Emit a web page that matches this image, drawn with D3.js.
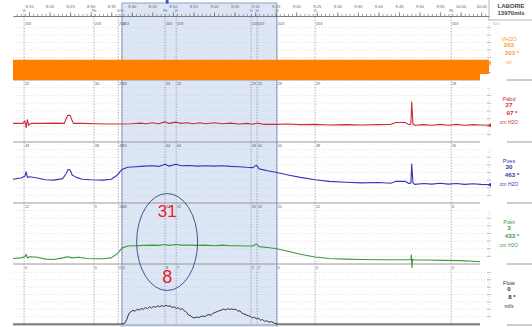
<!DOCTYPE html>
<html>
<head>
<meta charset="utf-8">
<script src="https://cdn.jsdelivr.net/npm/d3@7"></script>
<style>
  body { margin: 0; background: #fff; }
  svg { display: block; font-family: "Liberation Sans", "DejaVu Sans", sans-serif; opacity: 0.999; }
  svg text { -webkit-font-smoothing: antialiased; }
</style>
</head>
<body>
<svg id="chart" width="532" height="327"></svg>
<script>
// ---- time axis (minutes after 8:00) ----
const tickMinutes = d3.range(15, 126, 5);          // 8:15 ... 10:05
const minorMinutes = d3.range(12, 127, 1);
const timeDomain = [11.1, 126.9];

// ---- events ----
const eventTimes = [13.8, 30.8, 36.7, 37.6, 48.1, 50.8, 69.0, 70.5, 75.3, 84.6, 117.7];
const eventTags  = ["Vi", "Pb", "Vi", "Vi", "Pb", "Vi", "Vi", "Vi", "Vi", "Vi", "Pb"];
const voidingWindow = [37.6, 75.3];

// ---- traces: [minute, value] ----
const vh2oSeries = [[11.1, 203], [126.9, 203]];

const pabdSeries = [
  [11.1,30],[13.5,30],[14.0,34],[14.3,23],[14.6,36],[14.9,27],[15.4,30],[18,30],[21,30.5],
  [23.6,30],[24.0,37],[24.4,43],[25.0,43],[25.4,36],[25.8,30],[28,30],[31,29.5],[34,29],
  [37.6,29],[40,29.5],[42,30.5],[43.5,29.5],[45,31],[46.5,29.5],[48.1,32.5],[49,30],
  [50.8,32],[52,30],[53.5,31],[55,29.5],[56.5,31],[58,29.5],[60,31],[62,29.5],[64,30.5],
  [66,29],[68,30],[69.5,28.5],[70.5,30.5],[72,28.5],[75.3,28.5],[78,29],[81,28],[84.6,28.5],
  [88,27.5],[92,28],[96,27.5],[100,28],[103,28.5],[104.3,31.5],[106.5,31.5],[107.4,28],
  [107.9,29],[108.1,64.5],[108.4,29],[108.8,27],[111,28],[113,27],[115,28.5],[117,27],
  [119,28.5],[121,27],[123,28],[125,27.5],[126.9,27]
];

const pvesSeries = [
  [11.1,39],[13,41],[14.0,44],[14.3,51],[14.6,42],[15.2,43],[17,41],[19,38],[21,37.5],
  [23.2,40],[24.0,48],[24.5,55],[25.0,54],[25.5,46],[26.5,42],[28,39],[30,38],[33,37.5],
  [35,39],[36.5,46],[37.6,55],[39,58.5],[41,59.5],[43,60.5],[45,61],[46.5,60],[48.1,63.5],
  [49,60.5],[50.8,63.5],[52,61],[54,61.5],[56,60.5],[58,61],[60,60.5],[62,61],[64,60],
  [66,59.5],[68,58.5],[69.5,58],[70.3,62],[71,56],[73,53],[75.3,50],[78,46],[81,42],
  [84.6,38],[88,35.5],[92,34],[96,33],[100,33.5],[103,32.5],[104.3,35.5],[106.5,35.5],
  [107.4,32],[107.9,33],[108.1,64],[108.4,33],[108.8,30.5],[111,32],[113,31],[115,32.5],
  [117,31],[119,32],[121,30.5],[123,31.5],[125,30.5],[126.9,30]
];

const pdetSeries = [
  [11.1,9],[13,10],[14.0,12],[14.3,16],[14.6,10],[15.2,12],[17,11],[19,8],[21,7.5],
  [23.2,10],[24.5,12],[25.5,10],[27,11],[29,9],[31,8.5],[33,8.5],[35,10],[36.5,17],
  [37.6,26],[39,29.5],[41,30],[43,30.5],[45,31],[46.5,30.5],[48.1,32],[49,30.5],[50.8,32],
  [52,31],[54,31],[56,30.5],[58,31],[60,30],[62,31],[64,30],[66,30],[68,29.5],[69.5,29.5],
  [70.3,33],[71,28.5],[73,27],[75.3,25],[78,21],[81,16],[84.6,11.5],[88,9],[92,8],[96,7.5],
  [100,7],[104,7],[107.9,7],[108.0,15],[108.15,-6],[108.3,8],[108.6,6.5],[112,6.5],
  [116,6],[120,5.5],[123,4.5],[126.9,3]
];

const flowSeries = [
  [11.1,0],[37.6,0],[38.3,0.3],[38.8,2],[39.3,4.5],[39.8,5.2],[40.3,5.8],[40.8,5.4],[41.3,6.3],
  [41.8,5.9],[42.3,6.6],[42.8,6.2],[43.3,7.0],[43.8,6.5],[44.3,7.3],[44.8,6.8],[45.3,7.4],
  [45.8,7.1],[46.3,7.7],[46.8,7.3],[47.3,7.8],[47.8,7.4],[48.3,8.0],[48.8,7.5],[49.3,7.7],
  [49.8,7.0],[50.3,7.3],[50.8,6.6],[51.3,6.9],[51.8,6.2],[52.3,6.4],[52.8,5.6],[53.3,5.0],
  [53.8,3.8],[54.3,3.5],[54.8,2.8],[55.3,2.6],[55.8,3.0],[56.3,2.7],[56.8,3.2],[57.3,3.4],
  [57.8,3.1],[58.3,3.8],[58.8,4.0],[59.3,3.7],[59.8,4.6],[60.3,4.9],[60.8,5.3],[61.3,5.6],
  [61.8,5.9],[62.3,6.3],[62.8,6.0],[63.3,6.5],[63.8,6.2],[64.3,6.4],[64.8,6.1],[65.3,6.3],
  [65.8,5.4],[66.3,5.6],[66.8,4.6],[67.3,4.2],[67.8,3.9],[68.3,3.5],[68.8,3.3],[69.3,2.6],
  [69.8,2.9],[70.3,2.2],[70.8,2.5],[71.3,1.6],[71.8,1.9],[72.3,1.1],[72.8,1.4],[73.3,0.8],
  [74,1.0],[74.6,0.4],[75.3,0],[126.9,0]
];

// ---- channel read-out panel ----
const channelNames = ["VH2O", "Pabd", "Pves", "Pdet", "Flow"];
const channelPeaks = ["203 *", "97 *", "463 *", "433 *", "8 *"];
const channelUnits = ["ml", "cm H2O", "cm H2O", "cm H2O", "ml/s"];
const channelColors = ["#f5a033", "#cf2f3c", "#3535b5", "#3f993f", "#333333"];
const channelDomains = [[0, 600], [0, 100], [0, 100], [0, 100], [0, 25]];

// annotated values (Pdet and Qmax during voiding)
const markTime = 48.6;
const markPdet = 31;
const markFlow = 8;

// ---------------------------------------------------------------
const svg = d3.select("#chart");
svg.append("rect").attr("width", 532).attr("height", 327).attr("fill", "#fff");
const x = d3.scaleLinear().domain(timeDomain).range([13, 489]);

const bands = [
  { top: 20,  bottom: 80,  yr: [80, 20] },
  { top: 80,  bottom: 142, yr: [142, 80] },
  { top: 142, bottom: 203, yr: [203, 142] },
  { top: 203, bottom: 264, yr: [264, 203] },
  { top: 264, bottom: 325, yr: [324, 265] }
];
const yScales = bands.map((b, i) => d3.scaleLinear().domain(channelDomains[i]).range(b.yr));
const seriesList = [vh2oSeries, pabdSeries, pvesSeries, pdetSeries, flowSeries];

function valueAt(series, t) {
  for (let i = 1; i < series.length; i++) {
    if (series[i][0] >= t) {
      const [t0, v0] = series[i - 1], [t1, v1] = series[i];
      return v0 + (v1 - v0) * (t - t0) / (t1 - t0);
    }
  }
  return series[series.length - 1][1];
}

// voiding window shading
const vx0 = x(voidingWindow[0]), vx1 = x(voidingWindow[1]);
svg.append("rect").attr("x", vx0).attr("y", 3).attr("width", vx1 - vx0).attr("height", 324)
  .attr("fill", "#dce6f5");
svg.append("path")
  .attr("d", `M${vx0},327V3H${vx1}V327`)
  .attr("fill", "none").attr("stroke", "#7b8bb3").attr("stroke-width", 0.8);
svg.append("rect").attr("x", x(48.6) - 1.5).attr("y", 0).attr("width", 3).attr("height", 3.5)
  .attr("fill", "#3552c4").attr("rx", 1);

// dotted grid rows in each channel
bands.forEach((b, i) => {
  const d = channelDomains[i];
  const rows = d3.range(1, 8).map(k => d[0] + k * (d[1] - d[0]) / 8);
  svg.append("g").selectAll("line").data(rows).join("line")
    .attr("x1", 13).attr("x2", 489)
    .attr("y1", v => yScales[i](v)).attr("y2", v => yScales[i](v))
    .attr("stroke", "#c4c4c4").attr("stroke-width", 0.6).attr("stroke-dasharray", "0.8,2.2");
  // right scale ticks
  svg.append("g").selectAll("line").data(rows).join("line")
    .attr("x1", 487).attr("x2", 491)
    .attr("y1", v => yScales[i](v)).attr("y2", v => yScales[i](v))
    .attr("stroke", "#9a9a9a").attr("stroke-width", 0.6);
  svg.append("line").attr("x1", 489).attr("x2", 489).attr("y1", b.top).attr("y2", b.bottom)
    .attr("stroke", "#b5b5b5").attr("stroke-width", 0.6).attr("stroke-dasharray", "1,1.5");
});

// event markers
svg.append("g").selectAll("line").data(eventTimes).join("line")
  .attr("x1", d => x(d)).attr("x2", d => x(d)).attr("y1", 14).attr("y2", 325)
  .attr("stroke", "#8686a4").attr("stroke-width", 0.7).attr("stroke-dasharray", "1.4,1.4");

svg.append("g").selectAll("text").data(eventTimes).join("text")
  .attr("x", d => x(d)).attr("y", 12)
  .attr("text-anchor", "middle").attr("font-size", 3.6).attr("fill", "#4a5fb5")
  .text((d, i) => eventTags[i]);

// event read-outs at the top of each channel
bands.forEach((b, i) => {
  svg.append("g").selectAll("text").data(eventTimes).join("text")
    .attr("x", d => x(d) + 0.8).attr("y", b.top + 4.6)
    .attr("font-size", 3.8).attr("fill", "#5a5a70")
    .text(d => Math.round(valueAt(seriesList[i], d)));
});

// channel separators
svg.append("g").selectAll("line").data(bands).join("line")
  .attr("x1", 13).attr("x2", 532).attr("y1", b => b.bottom).attr("y2", b => b.bottom)
  .attr("stroke", "#8e8e8e").attr("stroke-width", 0.9);

// time ruler
const rulerY = 16;
svg.append("g").attr("transform", `translate(0,${rulerY})`)
  .call(d3.axisTop(x).tickValues(minorMinutes).tickSize(2).tickSizeOuter(0).tickFormat(""))
  .call(g => g.selectAll("line,path").attr("stroke", "#666").attr("stroke-width", 0.6));
svg.append("g").attr("transform", `translate(0,${rulerY})`)
  .call(d3.axisTop(x).tickValues(tickMinutes).tickSize(4).tickSizeOuter(0).tickPadding(4)
    .tickFormat(t => `${8 + Math.floor(t / 60)}:${String(t % 60).padStart(2, "0")}`))
  .call(g => g.selectAll("line,path").attr("stroke", "#666").attr("stroke-width", 0.6))
  .call(g => g.selectAll("text").attr("font-size", 4.2).attr("fill", "#666")
    .attr("font-family", "Liberation Sans, sans-serif"));

// volume channel (filled to zero)
svg.append("path").datum(vh2oSeries)
  .attr("d", d3.area().x(d => x(d[0])).y0(yScales[0](0)).y1(d => yScales[0](d[1])))
  .attr("fill", "#ff7f00");

// pressure / flow traces
const traceColors = [null, "#cc2b39", "#3434b8", "#3c993c", "#222"];
[1, 2, 3, 4].forEach(i => {
  svg.append("path").datum(seriesList[i])
    .attr("d", d3.line().x(d => x(d[0])).y(d => yScales[i](d[1])))
    .attr("fill", "none").attr("stroke", traceColors[i])
    .attr("stroke-width", i === 4 ? 0.9 : 1.1).attr("stroke-linejoin", "round");
});

// end-of-trace markers
[0, 1, 2, 3].forEach(i => {
  const s = seriesList[i];
  const last = s[s.length - 1];
  const px = x(last[0]), py = i === 0 ? yScales[0](last[1]) + 3 : yScales[i](last[1]);
  svg.append("path").attr("d", `M${px - 1.5},${py}L${px + 2},${py - 2}L${px + 2},${py + 2}Z`)
    .attr("fill", i === 0 ? "#f5a033" : traceColors[i]);
});

// masks over separators near the read-out panel
bands.forEach(b => {
  svg.append("rect").attr("x", 480).attr("y", b.bottom - 6).attr("width", 27).attr("height", 14)
    .attr("fill", "#fff");
});

// header
svg.append("line").attr("x1", 489).attr("x2", 489).attr("y1", 0).attr("y2", 20)
  .attr("stroke", "#9a9a9a").attr("stroke-width", 0.7);
svg.append("line").attr("x1", 489).attr("x2", 532).attr("y1", 20).attr("y2", 20)
  .attr("stroke", "#9a9a9a").attr("stroke-width", 0.7);
svg.append("text").attr("x", 511).attr("y", 8).attr("text-anchor", "middle")
  .attr("font-size", 6).attr("font-weight", "bold").attr("fill", "#444").text("LABORIE");
svg.append("text").attr("x", 511).attr("y", 15).attr("text-anchor", "middle")
  .attr("font-size", 6).attr("font-weight", "bold").attr("fill", "#444").text("13970mls");
svg.append("text").attr("x", 493).attr("y", 24.5).attr("font-size", 3.8)
  .attr("fill", "#f5b04a").text(channelDomains[0][1]);

// channel read-outs
bands.forEach((b, i) => {
  const s = seriesList[i];
  const now = Math.round(s[s.length - 1][1]);
  const g = svg.append("g").attr("fill", channelColors[i]).attr("text-anchor", "middle");
  g.append("text").attr("x", 509).attr("y", b.top + 20.5).attr("font-size", 5.6).text(channelNames[i]);
  g.append("text").attr("x", 509).attr("y", b.top + 27).attr("font-size", 6.2).attr("font-weight", "bold").text(now);
  g.append("text").attr("x", 512).attr("y", b.top + 35).attr("font-size", 6.2).attr("font-weight", "bold").text(channelPeaks[i]);
  g.append("text").attr("x", 509).attr("y", b.top + 43.5).attr("font-size", 5).text(channelUnits[i]);
});

// voiding annotation: detrusor pressure and maximum flow
const cx = x(markTime);
svg.append("ellipse").attr("cx", cx).attr("cy", 242).attr("rx", 30.5).attr("ry", 48.5)
  .attr("fill", "none").attr("stroke", "#2b4a80").attr("stroke-width", 0.9);
svg.append("text").attr("x", cx).attr("y", 216.5).attr("text-anchor", "middle")
  .attr("font-size", 17).attr("fill", "#ee1c24").text(markPdet);
svg.append("text").attr("x", cx).attr("y", 283).attr("text-anchor", "middle")
  .attr("font-size", 18).attr("fill", "#ee1c24").text(markFlow);
</script>
</body>
</html>
